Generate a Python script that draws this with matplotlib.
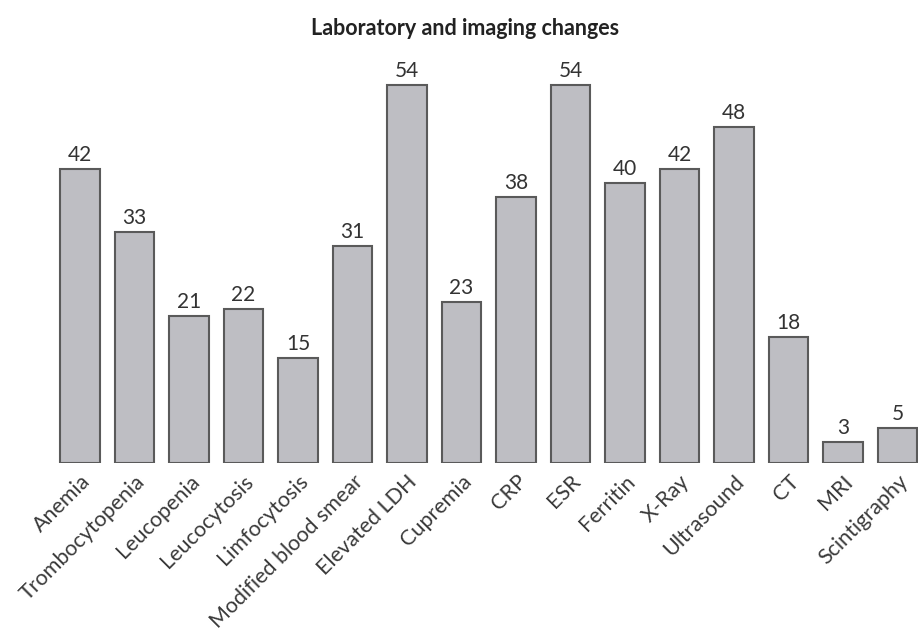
import matplotlib
matplotlib.use("Agg")
import matplotlib.pyplot as plt

categories = ["Anemia", "Trombocytopenia", "Leucopenia", "Leucocytosis", "Limfocytosis",
              "Modified blood smear", "Elevated LDH", "Cupremia", "CRP", "ESR",
              "Ferritin", "X-Ray", "Ultrasound", "CT", "MRI", "Scintigraphy"]
values = [42, 33, 21, 22, 15, 31, 54, 23, 38, 54, 40, 42, 48, 18, 3, 5]

plt.rcParams['font.family'] = ['Lato', 'DejaVu Sans']

fig = plt.figure(figsize=(9.18, 6.35), dpi=100)
ax = fig.add_axes([0.0, 0.271, 1.0, 0.729])

x = list(range(len(categories)))
bars = ax.bar(x, values, width=0.73, color="#bebec3", edgecolor="#5a5a5a", linewidth=1.5)
for b, v in zip(bars, values):
    ax.annotate(str(v), (b.get_x() + b.get_width() / 2, v), xytext=(0, 3),
                textcoords="offset points", ha="center", va="bottom",
                fontsize=15, color="#333333")

ax.set_xlim(-1.468, 15.376)
ax.set_ylim(0, 66.1)
ax.set_xticks(x)
ax.set_xticklabels(categories, rotation=45, ha="right", rotation_mode="anchor",
                   fontsize=15.5, color="#3a3a3a")
ax.tick_params(axis="x", length=0, pad=6)
ax.set_yticks([])
for s in ax.spines.values():
    s.set_visible(False)

fig.text(0.507, 0.955, "Laboratory and imaging changes", ha="center", va="center",
         fontsize=15.5, fontweight="bold", color="#222222")

fig.savefig("out.png", dpi=100)
